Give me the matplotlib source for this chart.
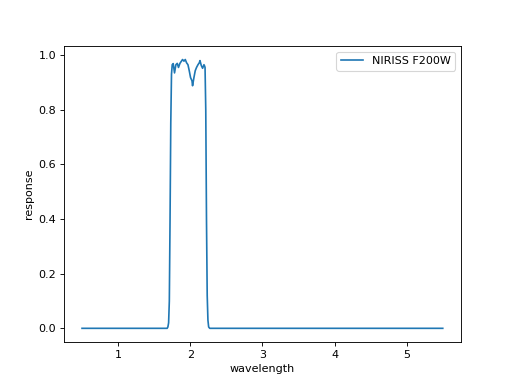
import matplotlib
matplotlib.use("Agg")
import matplotlib.pyplot as plt

# NIRISS F200W throughput
wavelength = [0.5, 1.0, 1.5, 1.68, 1.69, 1.70, 1.71, 1.72, 1.73, 1.74, 1.75,
              1.764, 1.782, 1.801, 1.82, 1.837, 1.857, 1.875, 1.893, 1.913,
              1.931, 1.949, 1.968, 1.986, 2.004, 2.024, 2.032, 2.051, 2.069,
              2.087, 2.107, 2.125, 2.135, 2.153, 2.171, 2.19, 2.199, 2.205,
              2.215, 2.225, 2.235, 2.245, 2.255, 2.27, 3.0, 4.0, 5.0, 5.5]
response = [0.0, 0.0, 0.0, 0.0, 0.005, 0.02, 0.1, 0.4, 0.75, 0.93, 0.965,
            0.969, 0.935, 0.965, 0.97, 0.955, 0.97, 0.977, 0.984, 0.978,
            0.984, 0.972, 0.965, 0.943, 0.918, 0.906, 0.888, 0.918, 0.943,
            0.955, 0.965, 0.972, 0.98, 0.962, 0.952, 0.965, 0.96, 0.955,
            0.8, 0.4, 0.12, 0.03, 0.005, 0.0, 0.0, 0.0, 0.0, 0.0]

fig, ax = plt.subplots(figsize=(6.4, 4.8), dpi=80)
ax.plot(wavelength, response, label="NIRISS F200W")
ax.set_xlabel("wavelength")
ax.set_ylabel("response")
ax.legend(loc="upper right")
fig.savefig("out.png")
